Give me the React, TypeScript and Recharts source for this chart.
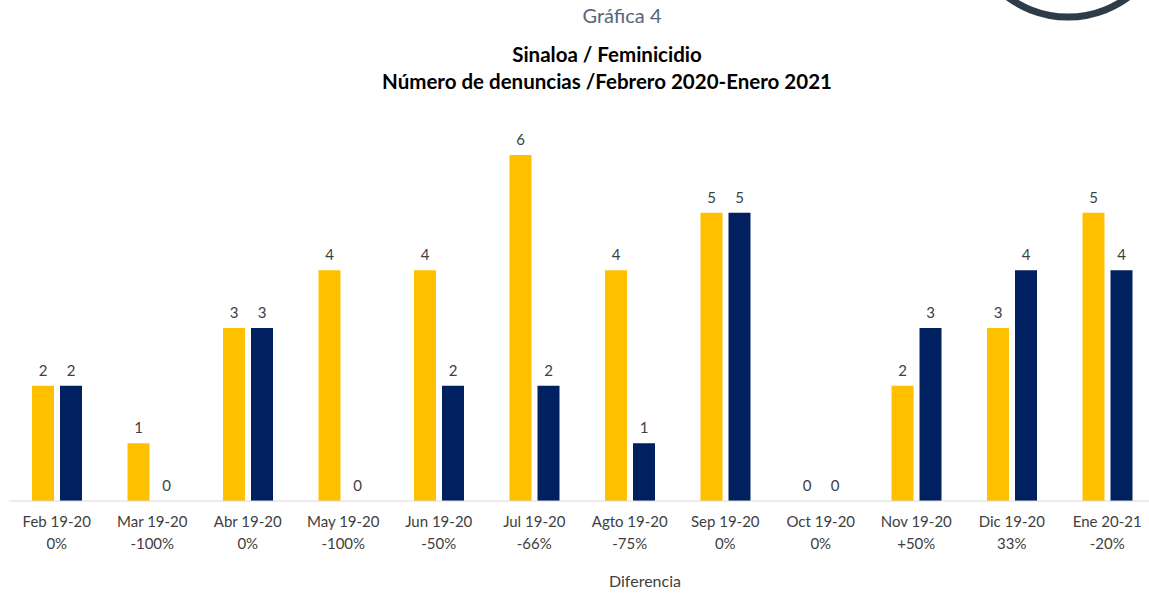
import { BarChart, Bar, XAxis, YAxis, LabelList } from 'recharts';

const categories = ['Feb 19-20', 'Mar 19-20', 'Abr 19-20', 'May 19-20', 'Jun 19-20', 'Jul 19-20', 'Agto 19-20', 'Sep 19-20', 'Oct 19-20', 'Nov 19-20', 'Dic 19-20', 'Ene 20-21'];
const diffs = ['0%', '-100%', '0%', '-100%', '-50%', '-66%', '-75%', '0%', '0%', '+50%', '33%', '-20%'];
const prevYear = [2, 1, 3, 4, 4, 6, 4, 5, 0, 2, 3, 5];
const currYear = [2, 0, 3, 0, 2, 2, 1, 5, 0, 3, 4, 4];

const data = categories.map((c, i) => ({ name: c, diff: diffs[i], a: prevYear[i], b: currYear[i] }));

const FONT = 'Lato, "Open Sans", sans-serif';

function Tick(props: any) {
  const { x, y, payload, index } = props;
  return (
    <g>
      <text x={x} y={y} dy={12} textAnchor="middle" fill="#404040" fontSize={15} fontFamily={FONT}>
        {payload.value}
      </text>
      <text x={x} y={y} dy={34} textAnchor="middle" fill="#404040" fontSize={15} fontFamily={FONT}>
        {diffs[index]}
      </text>
    </g>
  );
}

export default function App() {
  return (
    <div style={{ position: 'absolute', left: 0, top: 0, width: 1149, height: 593, overflow: 'hidden', background: '#fff', fontFamily: FONT }}>
      <svg width={1149} height={40} style={{ position: 'absolute', left: 0, top: 0 }}>
        <circle cx={1068} cy={-84} r={101} fill="none" stroke="#2e3c48" strokeWidth={7} />
      </svg>
      <div style={{ position: 'absolute', left: 0, width: 1244, top: 3, textAlign: 'center', fontSize: 20, color: '#56657a' }}>
        Gráfica 4
      </div>
      <div style={{ position: 'absolute', left: 0, width: 1214, top: 41, textAlign: 'center', fontSize: 20.5, fontWeight: 700, color: '#000', lineHeight: '27px' }}>
        Sinaloa / Feminicidio
        <br />
        Número de denuncias /Febrero 2020-Enero 2021
      </div>
      <div style={{ position: 'absolute', left: 0, width: 1290, top: 571, textAlign: 'center', fontSize: 16, color: '#404040' }}>
        Diferencia
      </div>
      <div style={{ position: 'absolute', left: 0, top: 0 }}>
        <BarChart width={1160} height={593} data={data} margin={{ top: 155, right: 5, bottom: 32, left: 9 }} barGap={6} barSize={22}>
          <XAxis dataKey="name" height={60} axisLine={{ stroke: '#d9d9d9' }} tickLine={false} tick={<Tick />} interval={0} tickMargin={8} />
          <YAxis hide domain={[0, 6]} />
          <Bar dataKey="a" fill="#ffc000" minPointSize={0.01} isAnimationActive={false}>
            <LabelList dataKey="a" position="top" offset={10} fill="#404040" fontSize={15} fontFamily={FONT} />
          </Bar>
          <Bar dataKey="b" fill="#002060" minPointSize={0.01} isAnimationActive={false}>
            <LabelList dataKey="b" position="top" offset={10} fill="#404040" fontSize={15} fontFamily={FONT} />
          </Bar>
        </BarChart>
      </div>
    </div>
  );
}
